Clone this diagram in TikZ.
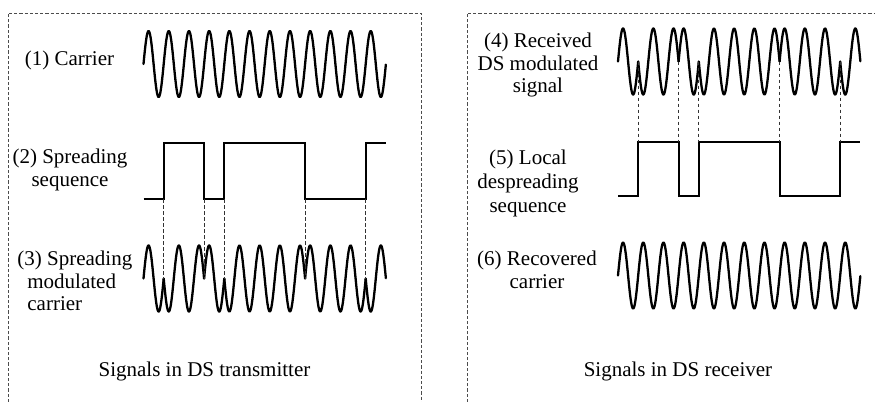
\documentclass[tikz,border=0pt]{standalone}
\usepackage{fontspec}
\setmainfont{Liberation Serif}
\begin{document}
\begin{tikzpicture}[x=0.5pt,y=-0.5pt,
  wave/.style={line width=1.15pt, line cap=round, line join=round},
  chip/.style={line width=1.1pt, line join=miter},
  guide/.style={line width=0.5pt, dash pattern=on 1.8pt off 1.2pt, black!80},
  frame/.style={line width=0.5pt, dash pattern=on 1.6pt off 1pt, black!70},
  lbl/.style={font=\fontsize{10.5}{11.3}\selectfont, align=center, inner sep=0pt}]
\useasboundingbox (0,0) rectangle (875,402);
\def\per{20.2}
% frames
\draw[frame] (8,402) -- (8,13) -- (421,13) -- (421,402);
\draw[frame] (467,402) -- (467,13) -- (875,13);

% (1) carrier
\draw[wave] plot[domain=0:12, samples=481, variable=\t] ({143.5+\t*\per},{64-33*sin(360*\t)});
% (2) spreading sequence
\draw[chip] (143.5,199) -| (163.7,143) -| (204.1,199) -| (224.3,143) -| (305.1,199) -| (365.7,143) -- (385.9,143);
% (3) spreading modulated carrier
\foreach \a/\b/\s in {0/1/1,1/3/-1,3/4/1,4/8/-1,8/11/1,11/12/-1}{
  \draw[wave] plot[domain=\a:\b, samples=161, variable=\t] ({143.5+\t*\per},{278.5-(\s)*33*sin(360*\t)});
}
\foreach \k in {1,3,4,8,11}{
  \draw[guide] ({143.5+\k*\per},199) -- ({143.5+\k*\per},278.5);
}

% (4) received DS modulated signal
\foreach \a/\b/\s in {0/1/1,1/3/-1,3/4/1,4/8/-1,8/11/1,11/12/-1}{
  \draw[wave] plot[domain=\a:\b, samples=161, variable=\t] ({618+\t*\per},{61.5-(\s)*33*sin(360*\t)});
}
% (5) local despreading sequence
\draw[chip] (618,196) -| (638.2,142) -| (678.6,196) -| (698.8,142) -| (779.6,196) -| (840.2,142) -- (860.4,142);
\foreach \k in {1,3,4,8,11}{
  \draw[guide] ({618+\k*\per},61.5) -- ({618+\k*\per},142);
}
% (6) recovered carrier
\draw[wave] plot[domain=0:12, samples=481, variable=\t] ({618+\t*\per},{275.5-33*sin(360*\t)});

% labels
\node[lbl] (c1) at (69.5,60) {(1) Carrier};
\node[lbl] (c2) at (70,170) {(2) Spreading\\sequence};
\node[lbl, align=left, anchor=west] (c3) at (17,281) {(3) Spreading\\\hspace*{5pt}modulated\\\hspace*{5pt}carrier};
\node[lbl] (tx) at (204.5,371) {Signals in DS transmitter};
\node[lbl] (c4) at (538,65) {(4) Received\\DS modulated\\signal};
\node[lbl, font=\fontsize{10.5}{12}\selectfont] (c5) at (528,183) {(5) Local\\despreading\\sequence};
\node[lbl] (c6) at (537,270) {(6) Recovered\\carrier};
\node[lbl] (rx) at (678,371) {Signals in DS receiver};
\end{tikzpicture}
\end{document}
